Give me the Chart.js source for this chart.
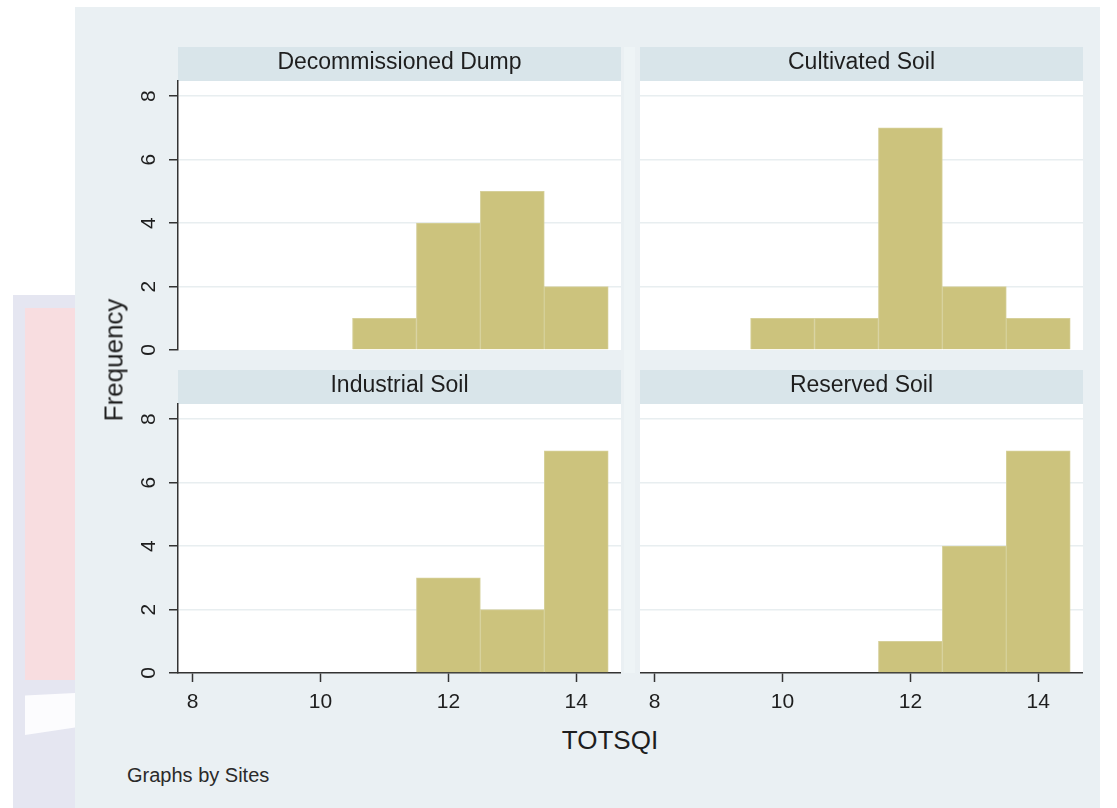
<!DOCTYPE html>
<html><head><meta charset="utf-8">
<script src="https://cdn.jsdelivr.net/npm/chart.js@4.4.0/dist/chart.umd.min.js"></script>
<style>
html,body{margin:0;padding:0;background:#fff;width:1117px;height:808px;overflow:hidden;position:relative;font-family:"Liberation Sans",Arial,sans-serif;color:#1e1e1e;}
.abs{position:absolute;}
canvas{position:absolute;}
</style></head><body>
<div class="abs" style="left:13px;top:295px;width:62px;height:513px;background:#e5e6f1"></div>
<div class="abs" style="left:25px;top:308px;width:50px;height:372px;background:#f8dde0"></div>
<div class="abs" style="left:25px;top:693px;width:50px;height:42px;background:#fcfcfe;clip-path:polygon(0 6%,100% 0,100% 82%,0 100%)"></div>
<div class="abs" style="left:75px;top:7px;width:1025px;height:801px;background:#eaf0f3"></div>
<div class="abs" style="left:624px;top:47px;width:11px;height:626px;background:#eef4f6"></div>

<canvas id="c1" width="521" height="316" style="left:100px;top:47px"></canvas>
<canvas id="c2" width="443" height="316" style="left:640px;top:47px"></canvas>
<canvas id="c3" width="521" height="350" style="left:100px;top:370px"></canvas>
<canvas id="c4" width="443" height="350" style="left:640px;top:370px"></canvas>

<div class="abs" style="left:114px;top:360px;transform:translate(-50%,-50%) rotate(-90deg);white-space:nowrap;font-size:26px;">Frequency</div>
<div class="abs" style="left:610px;top:740px;transform:translate(-50%,-50%);white-space:nowrap;font-size:26px;">TOTSQI</div>
<div class="abs" style="left:127px;top:775px;transform:translate(0,-50%);white-space:nowrap;font-size:20px;color:#2a2a2a;">Graphs by Sites</div>

<script>
// ---- data ----
const binCenters = [8, 9, 10, 11, 12, 13, 14];
const siteNames = ["Decommissioned Dump", "Cultivated Soil", "Industrial Soil", "Reserved Soil"];
const dumpFreq = [0, 0, 0, 1, 4, 5, 2];
const cultivatedFreq = [0, 0, 1, 1, 7, 2, 1];
const industrialFreq = [0, 0, 0, 0, 3, 2, 7];
const reservedFreq = [0, 0, 0, 0, 1, 4, 7];
const xTickValues = [8, 10, 12, 14];
const yTickValues = [0, 2, 4, 6, 8];

// ---- style ----
const FONT = '"Liberation Sans", Arial, sans-serif';
const BAR = '#ccc37d';
const BAR_EDGE = '#d6d09a';
const STRIP = '#d9e5ea';
const AXIS = '#333333';
const GRID = '#e8eef0';
const XMIN = 7.77, XMAX = 14.7, YMAX = 8.48;

const panelBg = {
  id: 'panelBg',
  beforeDraw(chart) {
    const { ctx, chartArea: a } = chart;
    const t = chart.titleBlock;
    ctx.save();
    ctx.fillStyle = STRIP;
    ctx.fillRect(a.left, t.top, a.right - a.left, a.top - t.top);
    ctx.fillStyle = '#ffffff';
    ctx.fillRect(a.left, a.top, a.right - a.left, a.bottom - a.top);
    ctx.restore();
  }
};

function makePanel(id, title, freqs, showY, showX) {
  const pts = binCenters.map((c, i) => ({ x: c, y: freqs[i] })).filter(p => p.y > 0);
  return new Chart(document.getElementById(id), {
    type: 'bar',
    data: { datasets: [{
      data: pts, backgroundColor: BAR, borderColor: BAR_EDGE, borderWidth: 1,
      borderSkipped: 'start', barPercentage: 1, categoryPercentage: 1
    }] },
    options: {
      responsive: false, animation: false, devicePixelRatio: 1,
      layout: { padding: 0 },
      plugins: {
        legend: { display: false }, tooltip: { enabled: false },
        title: { display: true, text: title, fullSize: false, color: '#1e1e1e',
          font: { family: FONT, size: 23, weight: 'normal' }, padding: { top: 2, bottom: 4.4 } }
      },
      scales: {
        x: {
          type: 'linear', min: XMIN, max: XMAX, display: showX, offset: false,
          afterBuildTicks: s => { s.ticks = xTickValues.map(v => ({ value: v })); },
          afterFit: s => { s.height = showX ? 47 : 13; s.paddingLeft = 0; s.paddingRight = 0; },
          grid: { offset: false, drawOnChartArea: false, drawTicks: true, tickLength: 9, tickColor: AXIS, tickWidth: 1.5 },
          border: { display: true, color: AXIS, width: 1.5 },
          ticks: { padding: 8, color: '#1e1e1e', maxRotation: 0, autoSkip: false,
            font: { family: FONT, size: 21 } }
        },
        y: {
          type: 'linear', min: 0, max: YMAX, position: 'left',
          afterBuildTicks: s => { s.ticks = yTickValues.map(v => ({ value: v })); },
          afterFit: s => { s.width = showY ? 78 : 0; s.paddingTop = 0; s.paddingBottom = 0; },
          grid: { offset: false, color: c => (c.tick && c.tick.value === 0) ? 'rgba(0,0,0,0)' : GRID,
            lineWidth: 1.5, drawTicks: showY, tickLength: 9, tickColor: AXIS, tickWidth: 1.5 },
          border: { display: showY, color: AXIS, width: 1.5 },
          ticks: { display: showY, minRotation: 90, maxRotation: 90, crossAlign: 'center',
            padding: 14, color: '#1e1e1e', font: { family: FONT, size: 21 } }
        }
      }
    },
    plugins: [panelBg]
  });
}

makePanel('c1', siteNames[0], dumpFreq, true, false);
makePanel('c2', siteNames[1], cultivatedFreq, false, false);
makePanel('c3', siteNames[2], industrialFreq, true, true);
makePanel('c4', siteNames[3], reservedFreq, false, true);
</script>
</body></html>
